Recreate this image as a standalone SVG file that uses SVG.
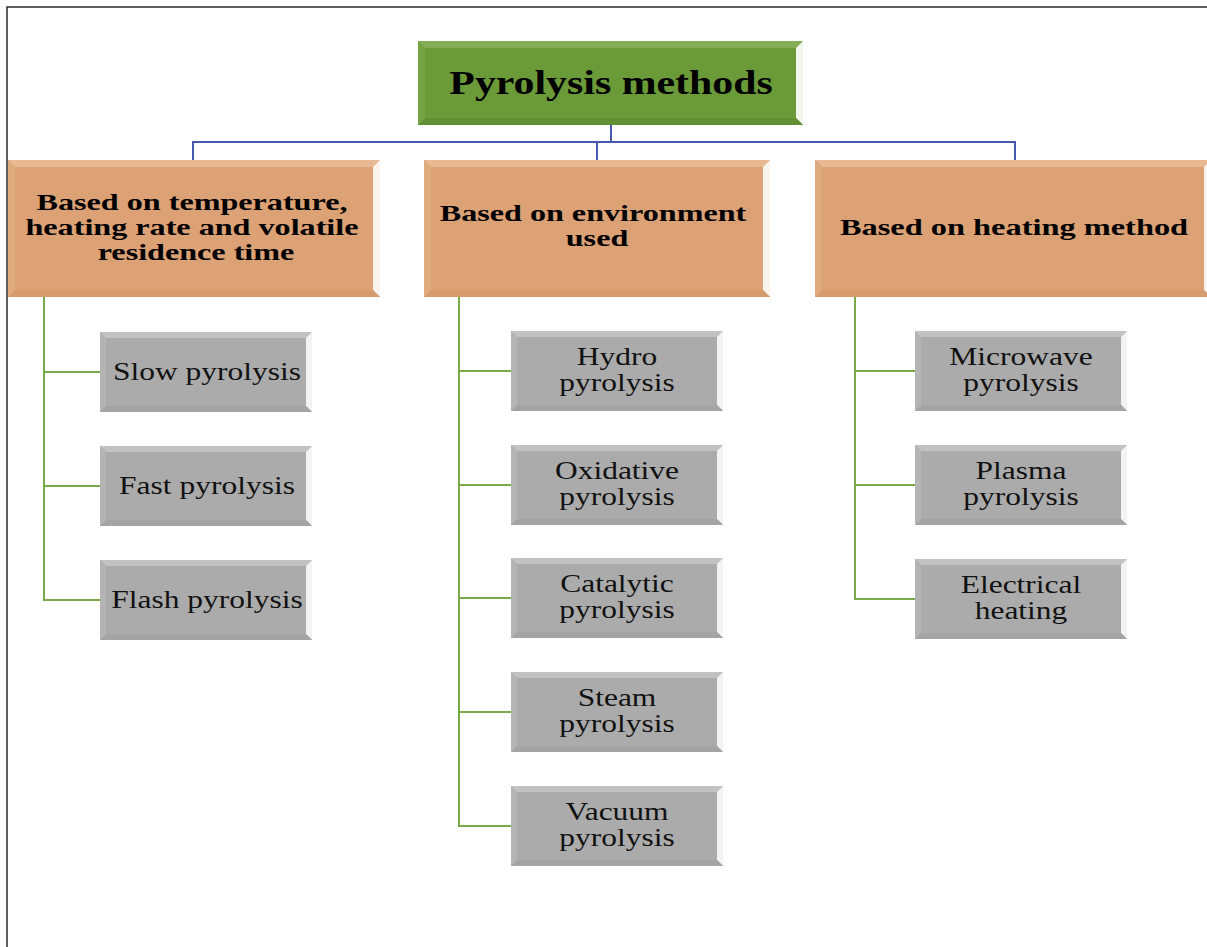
<svg xmlns="http://www.w3.org/2000/svg" xmlns:xlink="http://www.w3.org/1999/xlink" width="1207" height="947" viewBox="0 0 1207 947">
  <style>
    .frame { stroke: #2a2a2a; stroke-width: 1.5; fill: none; }
    .blue { stroke: #4758b0; stroke-width: 2; fill: none; }
    .green { stroke: #79a948; stroke-width: 2; fill: none; }
    .root { fill: #6b9a38; }
    .root-top { fill: #82ad56; }
    .root-right { fill: #f1f5ec; }
    .root-bot { fill: #628f33; }
    .root-left { fill: #74a344; }
    .cat { fill: #dca275; }
    .cat-top { fill: #e8b993; }
    .cat-right { fill: #fbf4ec; }
    .cat-bot { fill: #d69c6e; }
    .cat-left { fill: #e0aa7f; }
    .leaf { fill: #ababab; }
    .leaf-top { fill: #c2c2c2; }
    .leaf-right { fill: #f3f3f3; }
    .leaf-bot { fill: #a4a4a4; }
    .leaf-left { fill: #b4b4b4; }
    .t-root { font-family: "Liberation Serif", "Times New Roman", serif; font-weight: bold; font-size: 34px; fill: #000; text-anchor: middle; }
    .t-cat { font-family: "Liberation Serif", "Times New Roman", serif; font-weight: bold; font-size: 24px; fill: #000; text-anchor: middle; }
    .t-leaf { font-family: "Liberation Serif", "Times New Roman", serif; font-size: 25px; fill: #111; text-anchor: middle; }
  </style>
  <defs>
    <!-- bevelled grey box used by every method leaf -->
    <g id="leafBox">
      <rect class="leaf" width="212" height="80"/>
      <path class="leaf-top" d="M0 0H212L206 6H6Z"/>
      <path class="leaf-right" d="M212 0V80L206 74V6Z"/>
      <path class="leaf-bot" d="M0 80H212L206 74H6Z"/>
      <path class="leaf-left" d="M0 0V80L6 74V6Z"/>
    </g>
  </defs>

  <rect width="1207" height="947" fill="#ffffff"/>
  <path class="frame" d="M7 947V7H1207"/>

  <g id="connectors">
    <path class="blue" d="M611 125V142"/>
    <path class="blue" d="M193 160V142H1015V160"/>
    <path class="blue" d="M597 142V160"/>
    <path class="green" d="M44 297V600H100M44 372H100M44 486H100"/>
    <path class="green" d="M459 297V826H511M459 371H511M459 485H511M459 598H511M459 712H511"/>
    <path class="green" d="M855 297V599H915M855 371H915M855 485H915"/>
  </g>

  <g id="pyrolysis-methods">
    <rect class="root" x="418" y="41" width="385" height="84"/>
    <path class="root-top" d="M418 41H803L796 48H425Z"/>
    <path class="root-right" d="M803 41V125L796 118V48Z"/>
    <path class="root-bot" d="M418 125H803L796 118H425Z"/>
    <path class="root-left" d="M418 41V125L425 118V48Z"/>
    <text class="t-root" transform="matrix(1.23 0 0 1 611 0)" x="0" y="94">Pyrolysis methods</text>
  </g>

  <g id="by-temperature">
    <rect class="cat" x="8" y="160" width="372" height="137"/>
    <path class="cat-top" d="M8 160H380L373 167H15Z"/>
    <path class="cat-right" d="M380 160V297L373 290V167Z"/>
    <path class="cat-bot" d="M8 297H380L373 290H15Z"/>
    <path class="cat-left" d="M8 160V297L15 290V167Z"/>
    <text class="t-cat" transform="matrix(1.34 0 0 1 196 0)">
      <tspan x="0" y="210">Based on temperature,</tspan>
      <tspan x="0" y="235">heating rate and volatile</tspan>
      <tspan x="0" y="260">residence time</tspan>
    </text>
  </g>

  <g id="by-environment">
    <rect class="cat" x="424" y="160" width="346" height="137"/>
    <path class="cat-top" d="M424 160H770L763 167H431Z"/>
    <path class="cat-right" d="M770 160V297L763 290V167Z"/>
    <path class="cat-bot" d="M424 297H770L763 290H431Z"/>
    <path class="cat-left" d="M424 160V297L431 290V167Z"/>
    <text class="t-cat" transform="matrix(1.34 0 0 1 597 0)">
      <tspan x="0" y="221">Based on environment</tspan>
      <tspan x="0" y="246">used</tspan>
    </text>
  </g>

  <g id="by-heating">
    <rect class="cat" x="815" y="160" width="396" height="137"/>
    <path class="cat-top" d="M815 160H1211L1204 167H822Z"/>
    <path class="cat-right" d="M1211 160V297L1204 290V167Z"/>
    <path class="cat-bot" d="M815 297H1211L1204 290H822Z"/>
    <path class="cat-left" d="M815 160V297L822 290V167Z"/>
    <text class="t-cat" transform="matrix(1.35 0 0 1 1014 0)" x="0" y="235">Based on heating method</text>
  </g>

  <g id="slow">
    <use xlink:href="#leafBox" x="100" y="332"/>
    <text class="t-leaf" transform="matrix(1.26 0 0 1 207 0)" x="0" y="380">Slow pyrolysis</text>
  </g>
  <g id="fast">
    <use xlink:href="#leafBox" x="100" y="446"/>
    <text class="t-leaf" transform="matrix(1.26 0 0 1 207 0)" x="0" y="494">Fast pyrolysis</text>
  </g>
  <g id="flash">
    <use xlink:href="#leafBox" x="100" y="560"/>
    <text class="t-leaf" transform="matrix(1.26 0 0 1 207 0)" x="0" y="608">Flash pyrolysis</text>
  </g>

  <g id="hydro">
    <use xlink:href="#leafBox" x="511" y="331"/>
    <text class="t-leaf" transform="matrix(1.26 0 0 1 617 0)"><tspan x="0" y="365">Hydro</tspan><tspan x="0" y="391">pyrolysis</tspan></text>
  </g>
  <g id="oxidative">
    <use xlink:href="#leafBox" x="511" y="445"/>
    <text class="t-leaf" transform="matrix(1.26 0 0 1 617 0)"><tspan x="0" y="479">Oxidative</tspan><tspan x="0" y="505">pyrolysis</tspan></text>
  </g>
  <g id="catalytic">
    <use xlink:href="#leafBox" x="511" y="558"/>
    <text class="t-leaf" transform="matrix(1.26 0 0 1 617 0)"><tspan x="0" y="592">Catalytic</tspan><tspan x="0" y="618">pyrolysis</tspan></text>
  </g>
  <g id="steam">
    <use xlink:href="#leafBox" x="511" y="672"/>
    <text class="t-leaf" transform="matrix(1.26 0 0 1 617 0)"><tspan x="0" y="706">Steam</tspan><tspan x="0" y="732">pyrolysis</tspan></text>
  </g>
  <g id="vacuum">
    <use xlink:href="#leafBox" x="511" y="786"/>
    <text class="t-leaf" transform="matrix(1.26 0 0 1 617 0)"><tspan x="0" y="820">Vacuum</tspan><tspan x="0" y="846">pyrolysis</tspan></text>
  </g>

  <g id="microwave">
    <use xlink:href="#leafBox" x="915" y="331"/>
    <text class="t-leaf" transform="matrix(1.26 0 0 1 1021 0)"><tspan x="0" y="365">Microwave</tspan><tspan x="0" y="391">pyrolysis</tspan></text>
  </g>
  <g id="plasma">
    <use xlink:href="#leafBox" x="915" y="445"/>
    <text class="t-leaf" transform="matrix(1.26 0 0 1 1021 0)"><tspan x="0" y="479">Plasma</tspan><tspan x="0" y="505">pyrolysis</tspan></text>
  </g>
  <g id="electrical">
    <use xlink:href="#leafBox" x="915" y="559"/>
    <text class="t-leaf" transform="matrix(1.26 0 0 1 1021 0)"><tspan x="0" y="593">Electrical</tspan><tspan x="0" y="619">heating</tspan></text>
  </g>
</svg>
